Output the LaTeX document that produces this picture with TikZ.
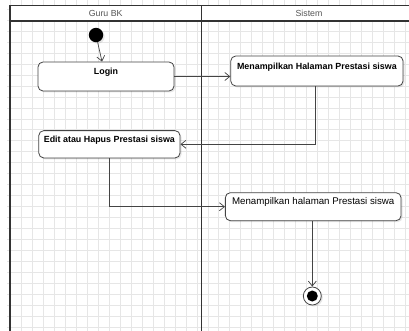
\documentclass[tikz,border=0pt]{standalone}
\usepackage{fontspec}
\setmainfont{Liberation Sans}
\usetikzlibrary{arrows.meta,shadows}
\definecolor{lanec}{HTML}{333333}
\definecolor{gridc}{HTML}{E6E6E6}
\definecolor{edgec}{HTML}{444444}
\definecolor{headc}{HTML}{555555}

\begin{document}
\begin{tikzpicture}[x=1pt,y=-1pt,
  actbox/.style={draw=edgec, line width=0.8pt, fill=white, rounded corners=5pt,
    inner sep=0pt, align=center,
    drop shadow={shadow xshift=1.5pt, shadow yshift=-1.5pt, opacity=0.2}},
  boldtext/.style={font=\fontsize{8.9}{10}\selectfont\bfseries},
  plaintext/.style={font=\fontsize{9.7}{11}\selectfont},
  headtext/.style={font=\fontsize{8.8}{10}\selectfont, text=headc, inner sep=0pt},
  flow/.style={draw=edgec, line width=0.7pt, -{Straight Barb[length=5pt,width=8pt]}},
  lane/.style={draw=lanec, line width=1.7pt}
]
\useasboundingbox (0,0) rectangle (409,331);
\clip (0,0) rectangle (409,331);

% background grid
\foreach \i in {0,...,36}
  \draw[gridc, line width=0.55pt] (10.7+10.95*\i,0) -- (10.7+10.95*\i,331);
\foreach \j in {-2,...,27}
  \draw[gridc, line width=0.55pt] (7,31.2+10.95*\j) -- (409,31.2+10.95*\j);

% swimlanes
\fill[white] (10,5.5) rectangle (416,20.7);
\draw[lane] (10,331) -- (10,5.5) -- (416,5.5);
\draw[lane] (10,20.7) -- (416,20.7);
\draw[lane] (201.5,5.5) -- (201.5,331);
\node[headtext] (laneguru) at (105.7,13) {Guru BK};
\node[headtext] (lanesys) at (309,13) {Sistem};

% activities
\node[circle, fill=black, minimum size=14.4pt, inner sep=0pt,
  drop shadow={shadow xshift=1.5pt, shadow yshift=-1.5pt, opacity=0.2}] (start) at (96,35) {};
\node[actbox, boldtext, minimum width=136pt, text height=12.5pt, text depth=16.5pt]
  (login) at (106,76.5) {Login};
\node[actbox, boldtext, minimum width=172.3pt, text height=13.2pt, text depth=16.8pt]
  (m1) at (316.9,71) {Menampilkan Halaman Prestasi siswa};
\node[actbox, boldtext, minimum width=141.3pt, text height=11.5pt, text depth=15.8pt]
  (edit) at (109.4,144.3) {Edit atau Hapus Prestasi siswa};
\node[actbox, plaintext, minimum width=175.7pt, text height=11.8pt, text depth=16.2pt]
  (m2) at (313.2,206.7) {Menampilkan halaman Prestasi siswa};
\node[circle, draw=edgec, fill=white, line width=0.8pt, minimum size=18pt, inner sep=0pt,
  drop shadow={shadow xshift=1.5pt, shadow yshift=-1.5pt, opacity=0.2},
  path picture={\fill[black] (path picture bounding box.center) circle (5.5pt);}]
  (end) at (312.3,296) {};

% control flow
\draw[flow] (start) -- ([xshift=-4pt]login.north);
\draw[flow] (login.east) -- (login.east -| m1.west);
\draw[flow] ([xshift=-2pt]m1.south) |- (edit.east);
\draw[flow] (edit.south) |- (m2.west);
\draw[flow] (end |- m2.south) -- (end.north);
\end{tikzpicture}
\end{document}
